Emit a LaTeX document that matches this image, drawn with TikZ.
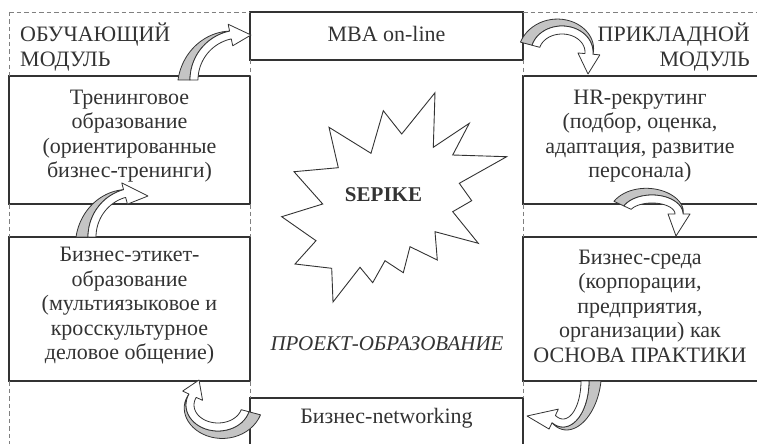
\documentclass[tikz,border=0pt]{standalone}
\usepackage{fontspec}
\setmainfont{Liberation Serif}
\definecolor{lc}{HTML}{333333}
\definecolor{dc}{HTML}{808080}
\definecolor{arrgray}{HTML}{C4C4C4}
\newcommand\arrW{4}
\newcommand\arrH{11}
% #1 cx, #2 cy, #3 rx, #4 ry, #5 start angle, #6 end angle, #7 gray thickness, #8 tip x, #9 tip y
\newcommand\blockarrow[9]{%
  \filldraw[fill=arrgray, draw=lc, line width=0.8pt, line join=round]
    plot[domain=0:1, samples=30] ({#1+(#3+\arrW+#7*(1-\x))*cos(#5+(#6-#5)*\x)}, {#2+(#4+\arrW+#7*(1-\x))*sin(#5+(#6-#5)*\x)})
    -- plot[domain=0:1, samples=30] ({#1+(#3+\arrW)*cos(#6+(#5-#6)*\x)}, {#2+(#4+\arrW)*sin(#6+(#5-#6)*\x)}) -- cycle;
  \filldraw[fill=white, draw=lc, line width=0.8pt, line join=round]
    plot[domain=0:1, samples=30] ({#1+(#3+\arrW)*cos(#5+(#6-#5)*\x)}, {#2+(#4+\arrW)*sin(#5+(#6-#5)*\x)})
    -- ({#1+(#3+\arrH)*cos(#6)}, {#2+(#4+\arrH)*sin(#6)})
    -- (#8,#9)
    -- ({#1+(#3-\arrH)*cos(#6)}, {#2+(#4-\arrH)*sin(#6)})
    -- plot[domain=0:1, samples=30] ({#1+(#3-\arrW)*cos(#6+(#5-#6)*\x)}, {#2+(#4-\arrW)*sin(#6+(#5-#6)*\x)})
    -- cycle;
}
\begin{document}
\begin{tikzpicture}[x=1pt,y=-1pt,
  box/.style={draw=lc, line width=1.1pt, inner sep=0pt, outer sep=0pt, rectangle},
  dline/.style={draw=dc, line width=0.9pt, dash pattern=on 4.5pt off 3pt},
  txt/.style={font=\fontsize{22}{24.5}\selectfont, align=center, inner sep=0pt, text=lc},
]
\useasboundingbox (0,0) rectangle (757,444);
\clip (0,0) rectangle (757,444);

% boxes
\node[box, minimum width=241, minimum height=128] (tren) at (129.5,140) {};
\node[box, minimum width=241, minimum height=144] (etik) at (129.5,309) {};
\node[box, minimum width=273, minimum height=48] (mba) at (386.5,36) {};
\node[box, minimum width=247, minimum height=128] (hr) at (646.5,140) {};
\node[box, minimum width=247, minimum height=144] (sreda) at (646.5,309) {};
\node[box, minimum width=273, minimum height=62] (net) at (386.5,429) {};

% dashed frame
\coordinate (tl) at (9,12);
\coordinate (tr) at (757,12);
\coordinate (bl) at (9,444);
\draw[dline] (tl) -- (mba.north west);
\draw[dline] (mba.north east) -- (tr);
\draw[dline] (tl) -- (tren.north west);
\draw[dline] (tren.south west) -- (etik.north west);
\draw[dline] (etik.south west) -- (bl);
\draw[dline] (mba.south west) -- (tren.north east);
\draw[dline] (mba.south east) -- (hr.north west);
\draw[dline] (tren.south east) -- (etik.north east);
\draw[dline] (hr.south west) -- (sreda.north west);
\draw[dline] (etik.south east) -- (net.north west);
\draw[dline] (sreda.south west) -- (net.north east);

% star
\draw[lc, line width=0.9pt, fill=white, line join=miter]
  (435,92.7) -- (433.3,147.3) -- (469.3,123.3) -- (452.7,155) -- (506.7,156.7)
  -- (459.3,183.3) -- (471.7,200.7) -- (452.7,211.7) -- (478.3,243.3) -- (435,231.7)
  -- (437.3,260) -- (410,246.7) -- (403.3,272.7) -- (385,260.7) -- (372.7,282.7)
  -- (360,267.3) -- (333,302) -- (331.7,268.3) -- (295,264) -- (316,240.7)
  -- (281.7,216.7) -- (322.7,204) -- (294,171.7) -- (338.3,167.7) -- (329,127.3)
  -- (371,153.3) -- (383.3,110.7) -- (401.7,134) -- cycle;

% texts
\node[txt, anchor=base west] (obu1) at (20,41.5) {ОБУЧАЮЩИЙ};
\node[txt, anchor=base west] (obu2) at (20,66.5) {МОДУЛЬ};
\node[txt, anchor=base east] (pri1) at (750,41.5) {ПРИКЛАДНОЙ};
\node[txt, anchor=base east] (pri2) at (750,66.5) {МОДУЛЬ};
\node[txt, anchor=base] (mbat) at (386.5,41.5) {MBA on-line};
\node[txt, anchor=base] (nett) at (386.5,423) {Бизнес-networking};
\node[txt] (trent) at (129.5,136) {Тренинговое\\образование\\(ориентированные\\бизнес-тренинги)};
\node[txt] (hrt) at (640,136) {HR-рекрутинг\\(подбор, оценка,\\адаптация, развитие\\персонала)};
\node[txt] (etikt) at (129.5,306) {Бизнес-этикет-\\образование\\(мультиязыковое и\\кросскультурное\\деловое общение)};
\node[txt] (sredat) at (640,306) {Бизнес-среда\\(корпорации,\\предприятия,\\организации) как\\ОСНОВА ПРАКТИКИ};
\node[txt, font=\fontsize{21}{24.5}\selectfont\bfseries, anchor=base] (sep) at (383.5,201.5) {SEPIKE};
\node[txt, font=\fontsize{21}{24.5}\selectfont\itshape, anchor=base] (proj) at (387,350) {ПРОЕКТ-ОБРАЗОВАНИЕ};

% curved block arrows
\blockarrow{240}{80}{46}{46}{180}{258}{12}{251}{35}
\blockarrow{562}{52}{27}{22}{195}{365}{12}{588}{74}
\blockarrow{652}{214}{27}{15}{205}{360}{11}{676}{236}
\blockarrow{136}{237}{44}{45}{180}{255}{12}{148}{196}
\blockarrow{563}{381}{22}{42}{0}{115}{12}{527}{416}
\blockarrow{218}{405}{28}{22}{15}{205}{12}{199}{380}
\end{tikzpicture}
\end{document}
